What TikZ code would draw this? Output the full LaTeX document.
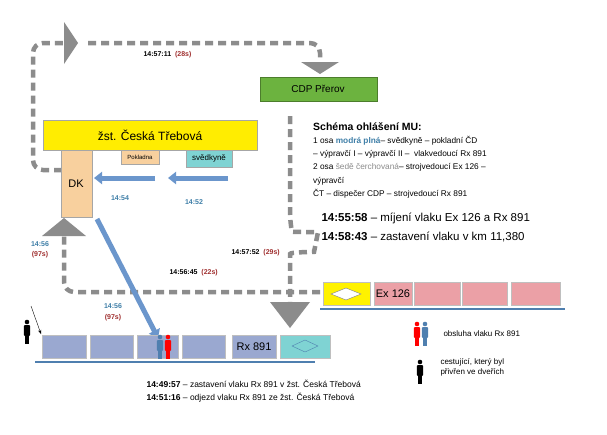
\documentclass[tikz,border=0pt]{standalone}
\usepackage{fontspec}
\setmainfont{Liberation Sans}
\usetikzlibrary{shapes.geometric,arrows.meta}
\definecolor{grayd}{HTML}{8C8C8C}
\definecolor{blu}{HTML}{6B96CC}
\definecolor{carb}{HTML}{9AA8D0}
\definecolor{carr}{HTML}{EBA0A6}
\definecolor{trk}{HTML}{4F7FAF}
\definecolor{lblb}{HTML}{3F7FA8}
\definecolor{lblr}{HTML}{A03030}
\definecolor{orng}{HTML}{F8D09E}
\definecolor{turq}{HTML}{7FD3D3}
\definecolor{grn}{HTML}{6CB33F}
\tikzset{
 box/.style={draw=black!35,anchor=north west,inner sep=0pt},
 gdash/.style={draw=grayd,line width=4.5pt,dash pattern=on 8pt off 5pt,rounded corners=10pt},
 barr/.style={draw=blu,line width=5pt,-{Triangle[length=8pt,width=12pt]}},
 tlab/.style={font=\bfseries\fontsize{7}{8}\selectfont},
}
\newcommand{\pers}[3]{%
 \fill[#3] (#1,#2-8) circle (2.3);
 \fill[#3,rounded corners=1pt] (#1-3.2,#2-5) rectangle (#1+3.2,#2+6);
 \fill[#3] (#1-2.2,#2+5) rectangle (#1-0.3,#2+14);
 \fill[#3] (#1+0.3,#2+5) rectangle (#1+2.2,#2+14);}
\begin{document}
\begin{tikzpicture}[x=1pt,y=-1pt]
\useasboundingbox[fill=white] (0,0) rectangle (607,434);
% gray dashed paths
\coordinate (p1) at (62,170);
\draw[gdash] (p1) -- (33,170) -- (33,43) -- (64,43);
\draw[gdash] (88,43) -- (320,43) -- (320,62);
\fill[grayd] (64,22) -- (78,43) -- (64,64) -- cycle;
\fill[grayd] (301,62) -- (339,62) -- (320,74) -- cycle;
\draw[gdash] (320,292) -- (64,292) -- (64,234);
\fill[grayd] (42,236) -- (86,236) -- (64,218) -- cycle;
\coordinate (c1) at (290,116);
\coordinate (c2) at (290,222);
\draw[gdash] (c1) -- (c2) .. controls (292,232) and (318,232) .. (316,242) .. controls (314,252) and (290,252) .. (290,264) -- (290,302);
\fill[grayd] (270,302) -- (310,302) -- (290,328) -- cycle;
% station
\node[box,fill=yellow!95!orange,minimum width=214pt,minimum height=30pt] (st) at (43,120) {};
\node at (150,135) {\fontsize{12}{14}\selectfont žst. Česká Třebová};
\node[box,fill=orng,minimum width=31pt,minimum height=67pt] (dk) at (61,150) {};
\node at (76,184) {\fontsize{11}{13}\selectfont DK};
\node[box,fill=orng,minimum width=38pt,minimum height=14pt] (pk) at (121,150) {};
\node[font=\fontsize{6}{7}\selectfont] at (140,157) {Pokladna};
\node[box,fill=turq,minimum width=46pt,minimum height=17pt] (sv) at (186,150) {};
\node[font=\fontsize{8}{9}\selectfont] at (209,158) {svědkyně};
\node[box,fill=grn,draw=grn!70!black,minimum width=117pt,minimum height=24pt] (cdp) at (260,77) {};
\node[font=\fontsize{10}{12}\selectfont] at (318,89) {CDP Přerov};
% blue arrows
\draw[barr] (155,178) -- (94,178);
\draw[barr] (228,178) -- (168,178);
\draw[barr] (97,219) -- (158,338);
% labels
\node[tlab,text=lblb] at (120,198) {14:54};
\node[tlab,text=lblb] at (194,202) {14:52};
\node[tlab,text=lblb] at (40,244) {14:56};
\node[tlab,text=lblr] at (40,255) {(97s)};
\node[tlab,text=lblb] at (113,306) {14:56};
\node[tlab,text=lblr] at (113,318) {(97s)};
\node[tlab,anchor=west] at (140,55) {14:57:11 \textcolor{lblr}{\ (28s)}};
\node[tlab,anchor=west] at (166,273) {14:56:45 \textcolor{lblr}{\ (22s)}};
\node[tlab,anchor=west] at (228,253) {14:57:52 \textcolor{lblr}{\ (29s)}};
% Rx train
\draw[trk,line width=1.5pt] (35,362) -- (315,362);
\foreach \a/\b in {42/86,90/133,137/178,182/225,232/276}{\fill[carb,draw=black!25] (\a,335) rectangle (\b,358);}
\node[font=\fontsize{11}{13}\selectfont] at (254,347) {Rx 891};
\fill[turq,draw=black!25] (280,335) rectangle (330,358);
\draw[trk] (292,346) -- (305,340) -- (318,346) -- (305,352) -- cycle;
% Ex train
\draw[trk,line width=1.5pt] (320,309) -- (565,309);
\fill[yellow,draw=black!25] (323,282) rectangle (370,305);
\draw[black!50,fill=white] (331,294) -- (346,288) -- (361,294) -- (346,300) -- cycle;
\foreach \a/\b in {374/412,414/460,462/507,511/560}{\fill[carr,draw=black!25] (\a,282) rectangle (\b,305);}
\node[font=\fontsize{11}{13}\selectfont] at (393,294) {Ex 126};
% persons
\pers{160}{345}{trk}\pers{168}{345}{red}
\pers{27}{330}{black}
\draw[black,-{Stealth[length=4pt]}] (31,306) -- (41,334);
\pers{417}{332}{red}\pers{425}{332}{trk}
\pers{420}{370}{black}
\node[anchor=west,font=\fontsize{8}{10}\selectfont] at (440,334) {obsluha vlaku Rx 891};
\node[anchor=west,align=left,font=\fontsize{8}{10}\selectfont] at (437,367) {cestující, který byl\\přivřen ve dveřích};
% text block
\node[anchor=north west,align=left,inner sep=0pt,font=\fontsize{8.3}{13.3}\selectfont] (tx) at (313,122) {{\fontsize{10.5}{13}\selectfont\bfseries Schéma ohlášení MU:}\\
1 osa \textcolor{lblb}{\bfseries modrá plná}– svědkyně – pokladní ČD\\
– výpravčí I – výpravčí II –\ \ vlakvedoucí Rx 891\\
2 osa \textcolor{black!45}{šedě čerchovaná}– strojvedoucí Ex 126 –\\
výpravčí\\
ČT – dispečer CDP – strojvedoucí Rx 891};
\node[anchor=west,font=\fontsize{11.5}{14}\selectfont] at (318,218) {\textbf{14:55:58} – míjení vlaku Ex 126 a Rx 891};
\node[anchor=west,font=\fontsize{11.5}{14}\selectfont] at (318,237) {\textbf{14:58:43} – zastavení vlaku v km 11,380};
\node[anchor=west,font=\fontsize{8.5}{10}\selectfont] at (143,384) {\textbf{14:49:57} – zastavení vlaku Rx 891 v žst. Česká Třebová};
\node[anchor=west,font=\fontsize{8.5}{10}\selectfont] at (143,398) {\textbf{14:51:16} – odjezd vlaku Rx 891 ze žst. Česká Třebová};
\end{tikzpicture}
\end{document}
